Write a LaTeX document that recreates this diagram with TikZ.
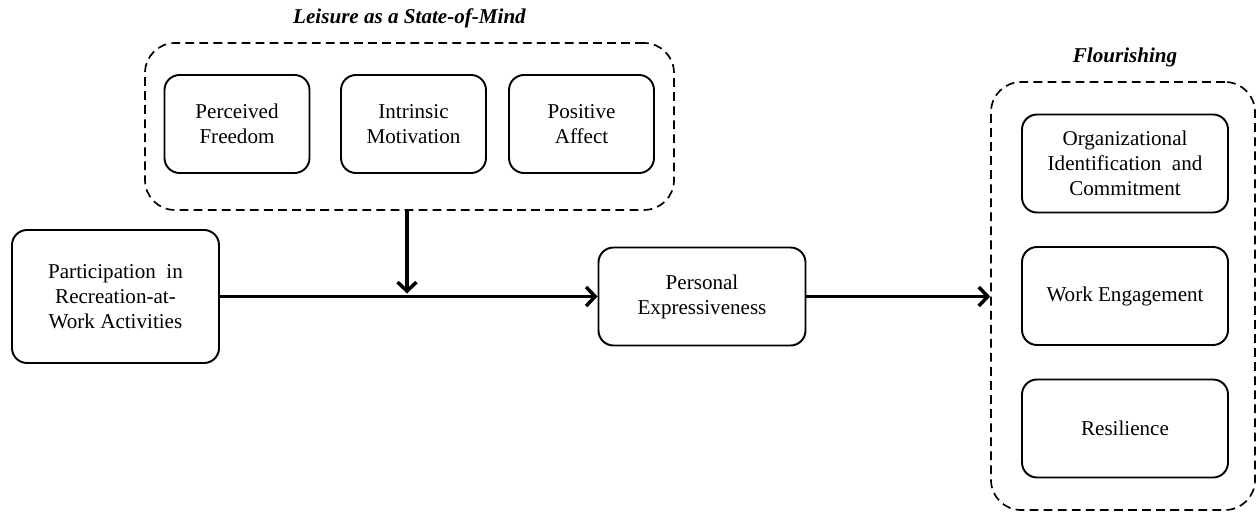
\documentclass[tikz,border=0pt]{standalone}
\usepackage{fontspec}
\setmainfont{Liberation Serif}
\usetikzlibrary{arrows.meta}

\tikzset{
  factor/.style={draw, line width=1.1pt, rounded corners=0.3cm, align=center,
    minimum width=2.9cm, minimum height=1.96cm, font=\fontsize{12}{14.2}\selectfont},
  widefactor/.style={factor, minimum width=4.14cm},
  group/.style={draw, line width=0.95pt, dash pattern=on 5pt off 3pt,
    rounded corners=0.6cm},
  grouptitle/.style={font=\fontsize{12}{14}\selectfont\bfseries\itshape},
  link/.style={line width=2pt, -{Straight Barb[length=1.8mm,width=3.8mm]}}
}

\begin{document}
\begin{tikzpicture}
	\useasboundingbox (0,0) rectangle (25.12,10.24);
	% leisure as a state of mind
	\node[group, minimum width=10.58cm, minimum height=3.34cm] (leisure) at (8.19,7.71) {};
	\node[grouptitle] (leisuretitle) at (8.19,9.88) {Leisure as a State-of-Mind};
	\node[factor] (freedom) at (4.74,7.76) {Perceived\\Freedom};
	\node[factor] (motivation) at (8.27,7.76) {Intrinsic\\Motivation};
	\node[factor] (affect) at (11.63,7.76) {Positive\\Affect};
	% main path
	\node[widefactor, minimum height=2.66cm] (participation) at (2.31,4.31) {Participation\ \ in\\Recreation-at-\\Work Activities};
	\node[widefactor] (expressiveness) at (14.04,4.31) {Personal\\Expressiveness};
	% flourishing
	\node[group, minimum width=5.28cm, minimum height=8.56cm] (flourishing) at (22.46,4.32) {};
	\node[grouptitle] (flourishingtitle) at (22.5,9.1) {Flourishing};
	\node[widefactor, minimum width=4.12cm] (identification) at (22.5,6.97) {Organizational\\Identification\ \ and\\Commitment};
	\node[widefactor, minimum width=4.12cm] (engagement) at (22.5,4.32) {Work Engagement};
	\node[widefactor, minimum width=4.12cm] (resilience) at (22.5,1.67) {Resilience};
	% arrows
	\coordinate (meet) at (8.14,4.37);
	\draw[link] (participation.east) -- (expressiveness.west);
	\draw[link] (leisure.south -| meet) -- (meet);
	\draw[link] (expressiveness.east) -- (flourishing.west |- expressiveness.east);
\end{tikzpicture}
\end{document}
